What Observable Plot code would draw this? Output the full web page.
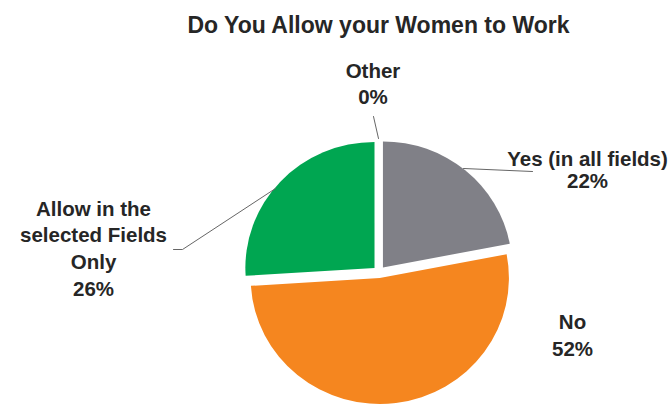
<!DOCTYPE html>
<html><head><meta charset="utf-8">
<script src="https://cdn.jsdelivr.net/npm/d3@7"></script>
<script src="https://cdn.jsdelivr.net/npm/@observablehq/plot@0.6"></script>
<style>body{margin:0;background:#fff} svg{display:block}</style>
</head><body><div id="chart"></div>
<script>
// ---- data ----
const title = "Do You Allow your Women to Work";
const categories = ["Other", "Yes (in all fields)", "No", "Allow in the selected Fields Only"];
const shares = [0, 22, 52, 26];
const labelTexts = ["Other\n0%", "Yes (in all fields)\n22%", "No\n52%", "Allow in the\nselected Fields\nOnly\n26%"];
const colors = ["#b0b0b0", "#808087", "#f5861f", "#00a651"];

// ---- layout (pixels) ----
const W = 672, H = 405;
const pieLayout = {cx: 379, cy: 272, r: 126, explode: 6, sx: 1.025};
const labelLayout = [
  {x: 372.5, b1: 77, lh: 26},
  {x: 587, b1: 165, lh: 22},
  {x: 572, b1: 328, lh: 27},
  {x: 93, b1: 215, lh: 26.7}
];
const leaderLayout = [
  [[373, 116], [378, 138]],
  [[463, 168], [532, 171]],
  [],
  [[173, 249], [182, 249], [275, 188]]
];
const titleLayout = {x: 378, baseline: 32, size: 23};
const labelSize = 20.5;

// ---- build ----
const sliceData = categories.map((c, i) => ({category: c, share: shares[i]}));
const arcs = d3.pie().value(d => d.share).sort(null).startAngle(0).endAngle(2 * Math.PI)(sliceData);

const labelLines = [];
labelTexts.forEach((t, k) => {
  t.split("\n").forEach((line, i) => {
    labelLines.push({text: line, x: labelLayout[k].x, y: labelLayout[k].b1 + i * labelLayout[k].lh});
  });
});
const leaderPts = [];
leaderLayout.forEach((pts, k) => pts.forEach(p => leaderPts.push({k, x: p[0], y: p[1]})));

const arcGen = d3.arc().innerRadius(0).outerRadius(pieLayout.r);

const chart = Plot.plot({
  width: W, height: H, margin: 0,
  x: {type: "identity", axis: null}, y: {type: "identity", axis: null},
  color: {domain: categories, range: colors},
  style: {fontFamily: "'Liberation Sans', Arial, sans-serif", background: "#fff"},
  marks: [
    Plot.dot(arcs, {
      x: () => pieLayout.cx, y: () => pieLayout.cy, fill: d => d.data.category,
      render(index, scales, values) {
        const g = d3.create("svg:g")
          .attr("transform", `translate(${values.x[index[0]]},${values.y[index[0]]}) scale(${pieLayout.sx},1)`);
        for (const i of index) {
          const a = arcs[i];
          if (a.endAngle - a.startAngle <= 0) continue;
          const mid = (a.startAngle + a.endAngle) / 2;
          const dx = pieLayout.explode * Math.sin(mid), dy = -pieLayout.explode * Math.cos(mid);
          g.append("path")
            .attr("d", arcGen(a))
            .attr("transform", `translate(${dx},${dy})`)
            .attr("fill", values.fill[i]);
        }
        return g.node();
      }
    }),
    Plot.line(leaderPts, {x: "x", y: "y", z: "k", stroke: "#666", strokeWidth: 1}),
    Plot.text(labelLines, {x: "x", y: "y", text: "text", lineAnchor: "bottom", fontSize: labelSize, fontWeight: "bold", fill: "#262626"}),
    Plot.text([title], {x: () => titleLayout.x, y: () => titleLayout.baseline, text: d => d, lineAnchor: "bottom", fontSize: titleLayout.size, fontWeight: "bold", fill: "#262626"})
  ]
});
document.getElementById("chart").appendChild(chart);
</script>
</body></html>
